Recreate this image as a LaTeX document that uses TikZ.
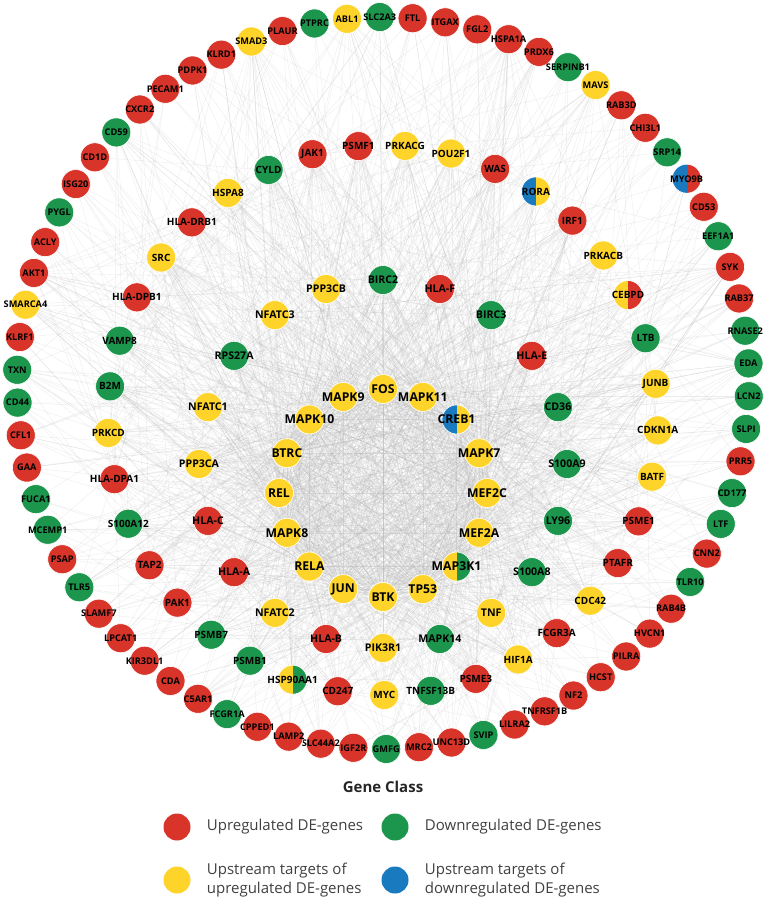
\documentclass[tikz,border=0pt]{standalone}
\usepackage{fontspec}
\setmainfont{Open Sans}
\usetikzlibrary{positioning,backgrounds}
\definecolor{upred}{RGB}{216,52,42}
\definecolor{downgreen}{RGB}{28,150,76}
\definecolor{upyellow}{RGB}{254,212,42}
\definecolor{downblue}{RGB}{26,122,192}
\begin{document}
\begin{tikzpicture}[
  x=1pt, y=1pt,
  gene/.style={circle, draw=white, line width=0.6pt, minimum size=29pt, inner sep=0pt, text=black},
  link/.style={draw=black!30, line width=0.5pt, opacity=0.2}
]
\tikzset{
  upgene/.style={fill=upred},
  downgene/.style={fill=downgreen},
  uptarget/.style={fill=upyellow},
  downtarget/.style={fill=downblue},
  mixed/.style 2 args={path picture={
      \fill[#1] (path picture bounding box.south west) rectangle (path picture bounding box.north);
      \fill[#2] (path picture bounding box.south) rectangle (path picture bounding box.north east);}},
  outer/.style={gene, font=\bfseries\fontsize{9.2}{10}\selectfont},
  middle/.style={gene, font=\bfseries\fontsize{10}{11}\selectfont},
  third/.style={gene, font=\bfseries\fontsize{10.6}{11}\selectfont},
  inner/.style={gene, font=\bfseries\fontsize{12.2}{13}\selectfont},
  keydot/.style={circle, minimum size=27pt, inner sep=0pt},
  keytext/.style={inner sep=0pt, text=black!75, align=left, font=\fontsize{15}{19}\selectfont}
}
\useasboundingbox (0,0) rectangle (766,-900);

% outer ring, clockwise from the top
\foreach \g/\cls [count=\i from 0] in {
  SLC2A3/downgene, FTL/upgene, ITGAX/upgene, FGL2/upgene, HSPA1A/upgene,
  PRDX6/upgene, SERPINB1/downgene, MAVS/uptarget, RAB3D/upgene, CHI3L1/upgene,
  SRP14/downgene, MYO9B/{mixed={downblue}{upred}}, CD53/upgene, EEF1A1/downgene,
  SYK/upgene, RAB37/upgene, RNASE2/downgene, EDA/downgene, LCN2/downgene,
  SLPI/downgene, PRR5/upgene, CD177/downgene, LTF/downgene, CNN2/upgene,
  TLR10/downgene, RAB4B/upgene, HVCN1/upgene, PILRA/upgene, HCST/upgene,
  NF2/upgene, TNFRSF1B/upgene, LILRA2/upgene, SVIP/downgene, UNC13D/upgene,
  MRC2/upgene, GMFG/downgene, IGF2R/upgene, SLC44A2/upgene, LAMP2/upgene,
  CPPED1/upgene, FCGR1A/downgene, C5AR1/upgene, CDA/upgene, KIR3DL1/upgene,
  LPCAT1/upgene, SLAMF7/upgene, TLR5/downgene, PSAP/upgene, MCEMP1/downgene,
  FUCA1/downgene, GAA/upgene, CFL1/upgene, CD44/downgene, TXN/downgene,
  KLRF1/upgene, SMARCA4/uptarget, AKT1/upgene, ACLY/upgene, PYGL/downgene,
  ISG20/upgene, CD1D/upgene, CD59/downgene, CXCR2/upgene, PECAM1/upgene,
  PDPK1/upgene, KLRD1/upgene, SMAD3/uptarget, PLAUR/upgene, PTPRC/downgene,
  ABL1/uptarget}{
  \pgfmathsetmacro\a{90.5-5.142857*\i}
  \node[outer, style/.expanded=\cls, alias=n\i] (\g) at ({383+366*cos(\a)},{-383+366*sin(\a)}) {\makebox[0pt]{\g}};
}

% middle ring
\foreach \g/\cls [count=\i from 0] in {
  PRKACG/uptarget, POU2F1/uptarget, WAS/upgene, RORA/{mixed={downblue}{upyellow}},
  IRF1/upgene, PRKACB/uptarget, CEBPD/{mixed={upyellow}{upred}}, LTB/downgene,
  JUNB/uptarget, CDKN1A/uptarget, BATF/uptarget, PSME1/upgene, PTAFR/upgene,
  CDC42/uptarget, FCGR3A/upgene, HIF1A/uptarget, PSME3/upgene, TNFSF13B/downgene,
  MYC/uptarget, CD247/upgene, HSP90AA1/{mixed={upyellow}{downgreen}}, PSMB1/downgene,
  PSMB7/downgene, PAK1/upgene, TAP2/upgene, S100A12/downgene, HLA-DPA1/upgene,
  PRKCD/uptarget, B2M/downgene, VAMP8/downgene, HLA-DPB1/upgene, SRC/uptarget,
  HLA-DRB1/upgene, HSPA8/uptarget, CYLD/downgene, JAK1/upgene, PSMF1/upgene}{
  \pgfmathsetmacro\a{85.4-9.72973*\i}
  \pgfmathtruncatemacro\k{70+\i}
  \node[middle, style/.expanded=\cls, alias=n\k] (\g) at ({383+275*cos(\a)},{-420+275*sin(\a)}) {\makebox[0pt]{\g}};
}

% third ring
\foreach \g/\cls [count=\i from 0] in {
  BIRC2/downgene, HLA-F/upgene, BIRC3/downgene, HLA-E/upgene, CD36/downgene,
  S100A9/downgene, LY96/downgene, S100A8/downgene, TNF/uptarget, MAPK14/downgene,
  PIK3R1/uptarget, HLA-B/upgene, NFATC2/uptarget, HLA-A/upgene, HLA-C/upgene,
  PPP3CA/uptarget, NFATC1/uptarget, RPS27A/downgene, NFATC3/uptarget, PPP3CB/uptarget}{
  \pgfmathsetmacro\a{90-18*\i}
  \pgfmathtruncatemacro\k{107+\i}
  \node[third, style/.expanded=\cls, alias=n\k] (\g) at ({383+184*cos(\a)},{-464+184*sin(\a)}) {\makebox[0pt]{\g}};
}

% hubs in the centre
\foreach \g/\cls [count=\i from 0] in {
  FOS/uptarget, MAPK11/uptarget, CREB1/{mixed={downblue}{upyellow}}, MAPK7/uptarget,
  MEF2C/uptarget, MEF2A/uptarget, MAP3K1/{mixed={upyellow}{downgreen}}, TP53/uptarget,
  BTK/uptarget, JUN/uptarget, RELA/uptarget, MAPK8/uptarget, REL/uptarget,
  BTRC/uptarget, MAPK10/uptarget, MAPK9/uptarget}{
  \pgfmathsetmacro\a{90-22.5*\i}
  \pgfmathtruncatemacro\k{127+\i}
  \node[inner, style/.expanded=\cls, alias=n\k] (\g) at ({383+104*cos(\a)},{-493+104*sin(\a)}) {\makebox[0pt]{\g}};
}

% interactions, behind the genes
\pgfmathsetseed{4711}
\begin{scope}[on background layer]
  % hubs with hubs, third and middle ring
  \foreach \h in {127,...,142}{
    \foreach \r in {70,...,142}{
      \ifnum\r=\h\else \draw[link] (n\h) -- (n\r);\fi
    }
    \foreach \j in {1,...,14}{
      \pgfmathtruncatemacro\r{random(0,69)}
      \draw[link] (n\h) -- (n\r);
    }
  }
  \foreach \h in {107,...,126}
    \foreach \j in {1,...,10}{
      \pgfmathtruncatemacro\r{random(0,126)}
      \ifnum\r=\h\else \draw[link] (n\h) -- (n\r);\fi
    }
  \foreach \h in {70,...,106}
    \foreach \j in {1,...,4}{
      \pgfmathtruncatemacro\r{random(0,126)}
      \ifnum\r=\h\else \draw[link] (n\h) -- (n\r);\fi
    }
  \foreach \h in {0,...,69}
    \foreach \j in {1,...,2}{
      \pgfmathtruncatemacro\r{random(70,126)}
      \draw[link] (n\h) -- (n\r);
    }
  \foreach \h in {AKT1,SMARCA4,SYK,MAVS,SMAD3,ABL1,HSPA1A,SRC}
    \foreach \j in {1,...,14}{
      \pgfmathtruncatemacro\r{random(70,142)}
      \draw[link] (\h) -- (n\r);
    }
\end{scope}

% legend
\node[font=\bfseries\fontsize{15}{18}\selectfont, text=black!85] (title) at (383,-787) {Gene Class};
\node[keydot, fill=upred] (kup) at (177,-827) {};
\node[keytext, right=16pt of kup] (tup) {Upregulated DE-genes};
\node[keydot, fill=downgreen] (kdown) at (395,-827) {};
\node[keytext, right=16pt of kdown] (tdown) {Downregulated DE-genes};
\node[keydot, fill=upyellow] (kupt) at (177,-880) {};
\node[keytext, right=16pt of kupt] (tupt) {Upstream targets of\\upregulated DE-genes};
\node[keydot, fill=downblue] (kdownt) at (395,-880) {};
\node[keytext, right=16pt of kdownt] (tdownt) {Upstream targets of\\downregulated DE-genes};
\end{tikzpicture}
\end{document}
